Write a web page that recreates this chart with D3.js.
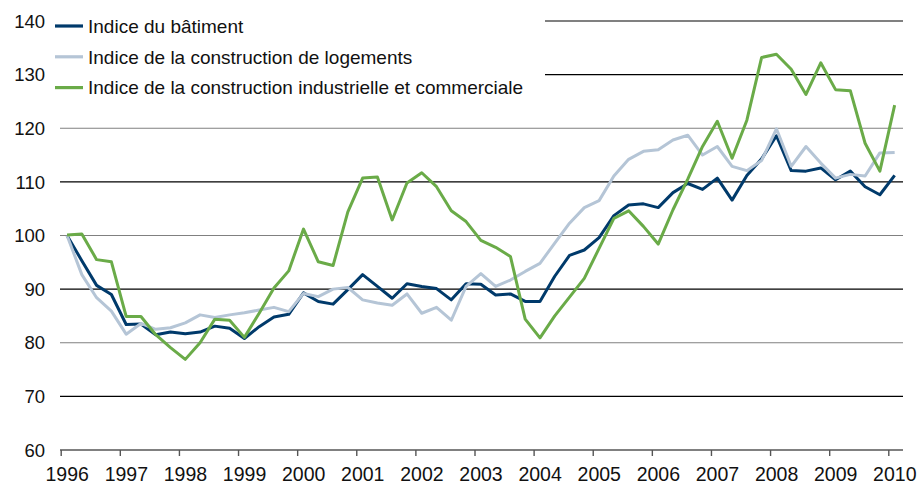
<!DOCTYPE html>
<html>
<head>
<meta charset="utf-8">
<script src="https://cdn.jsdelivr.net/npm/d3@7"></script>
<style>
  body { margin: 0; background: #fff; }
  svg { display: block; font-family: "Liberation Sans", Arial, sans-serif; }
</style>
</head>
<body>
<svg id="drawing_region"></svg>
<script>
// quarterly values, 1996 T1 .. 2010 T1
const batiment = [
    100.0, 95.3, 90.7, 89.0, 83.4, 83.5, 81.5, 82.0, 81.7, 82.0, 83.1, 82.7,
    80.8, 83.0, 84.8, 85.3, 89.3, 87.7, 87.2, 89.9, 92.7, 90.5, 88.3, 91.0,
    90.5, 90.1, 88.0, 91.0, 90.9, 88.9, 89.1, 87.7, 87.7, 92.4, 96.3, 97.3,
    99.6, 103.7, 105.7, 105.9, 105.2, 108.0, 109.7, 108.6, 110.7, 106.6, 111.2, 114.3,
    118.6, 112.1, 112.0, 112.6, 110.4, 112.0, 109.1, 107.6, 111.2
];
const logements = [
    100.0, 92.7, 88.4, 85.9, 81.6, 83.6, 82.5, 82.8, 83.7, 85.2, 84.7, 85.2,
    85.6, 86.1, 86.6, 85.8, 89.2, 88.6, 90.0, 90.3, 88.0, 87.4, 87.0, 89.1,
    85.5, 86.6, 84.2, 90.5, 92.9, 90.5, 91.7, 93.3, 94.8, 98.6, 102.3, 105.2,
    106.5, 111.1, 114.2, 115.7, 116.0, 117.8, 118.7, 115.0, 116.6, 112.9, 112.1, 114.0,
    119.9, 112.9, 116.6, 113.5, 110.7, 111.4, 111.1, 115.4, 115.5
];
const industrielle = [
    100.1, 100.3, 95.5, 95.1, 84.9, 84.9, 81.5, 79.1, 76.9, 80.0, 84.4, 84.2,
    81.0, 85.5, 90.2, 93.4, 101.2, 95.1, 94.4, 104.4, 110.7, 110.9, 102.9, 109.8,
    111.7, 109.1, 104.6, 102.6, 99.1, 97.8, 96.1, 84.4, 80.9, 85.0, 88.5, 92.0,
    97.6, 103.2, 104.6, 101.7, 98.4, 104.8, 110.5, 116.6, 121.3, 114.4, 121.5, 133.2,
    133.8, 131.0, 126.3, 132.2, 127.2, 127.0, 117.2, 112.0, 124.3
];
const seriesNames = [
    "Indice du bâtiment",
    "Indice de la construction de logements",
    "Indice de la construction industrielle et commerciale"
];
const seriesColors = ["#003a6b", "#b5c5d6", "#6aab48"];
const yTicks = [60, 70, 80, 90, 100, 110, 120, 130, 140];
const xTicks = [1996, 1997, 1998, 1999, 2000, 2001, 2002, 2003, 2004, 2005, 2006, 2007, 2008, 2009, 2010];
const startYear = 1996;

class LineChart {

    constructor( config, series ) {
        this.config = {
            parent: config.parent,
            width: config.width || 919,
            height: config.height || 487,
            margin: config.margin || {top:21, right:16, bottom:37, left:60}
        }
        this.series = series;
        this.init();
    }

    init() {
        let self = this;

        self.svg = d3.select( self.config.parent )
            .attr('width', self.config.width)
            .attr('height', self.config.height);

        self.inner_width = self.config.width - self.config.margin.left - self.config.margin.right;
        self.inner_height = self.config.height - self.config.margin.top - self.config.margin.bottom;

        self.chart = self.svg.append('g')
            .attr('transform', `translate(${self.config.margin.left}, ${self.config.margin.top})`);

        // year ticks sit a bit inside the right edge of the grid
        self.xscale = d3.scaleLinear()
            .domain([1996, 2010])
            .range([0.7, 828.3]);

        self.yscale = d3.scaleLinear()
            .domain([60, 140])
            .range([self.inner_height, 0]);

        self.line = d3.line()
            .x( (d, i) => self.xscale( startYear + (i + 0.43) / 4 ) )
            .y( d => self.yscale(d) );
    }

    render() {
        let self = this;

        // horizontal grid, alternating gray / black
        self.chart.selectAll(".grid")
            .data(yTicks.filter(d => d > 60))
            .enter()
            .append("line")
            .attr("class", "grid")
            .attr("x1", 0)
            .attr("x2", self.inner_width)
            .attr("y1", d => self.yscale(d))
            .attr("y2", d => self.yscale(d))
            .attr("stroke", d => (d / 10) % 2 == 0 ? "#808080" : "#000")
            .attr("stroke-width", d => d == 140 ? 1.8 : 1.2);

        // y labels
        self.chart.selectAll(".ylabel")
            .data(yTicks)
            .enter()
            .append("text")
            .attr("class", "ylabel")
            .attr("x", -15)
            .attr("y", d => self.yscale(d))
            .attr("dy", "0.36em")
            .attr("text-anchor", "end")
            .attr("font-size", "18.5px")
            .attr("fill", "#111")
            .text(d => d);

        // x axis
        const xaxis = d3.axisBottom( self.xscale )
            .tickValues(xTicks)
            .tickSize(6)
            .tickSizeOuter(0)
            .tickFormat(d3.format("d"));

        const xaxis_group = self.chart.append('g')
            .attr('transform', `translate(0, ${self.inner_height})`)
            .call(xaxis);

        xaxis_group.select(".domain")
            .attr("d", `M0,0H${self.inner_width}`)
            .attr("stroke", "#808080")
            .attr("stroke-width", 1.8);
        xaxis_group.selectAll(".tick line")
            .attr("stroke", "#555")
            .attr("stroke-width", 1.4);
        xaxis_group.selectAll(".tick text")
            .attr("font-family", "Liberation Sans, Arial, sans-serif")
            .attr("font-size", "19.5px")
            .attr("fill", "#111")
            .attr("dx", 6)
            .attr("y", 17)
            .attr("dy", "0.71em");

        // legend sits on a white box over the top gridlines
        self.chart.append("rect")
            .attr("x", -2)
            .attr("y", -18)
            .attr("width", 487)
            .attr("height", 88)
            .attr("fill", "#fff");

        self.chart.selectAll(".series")
            .data(self.series)
            .enter()
            .append("path")
            .attr("class", "series")
            .attr("fill", "none")
            .attr("stroke", d => d.color)
            .attr("stroke-width", 3)
            .attr("stroke-linejoin", "round")
            .attr("d", d => self.line(d.values));

        const legend = self.chart.selectAll(".legend")
            .data(self.series)
            .enter()
            .append("g")
            .attr("class", "legend")
            .attr("transform", (d, i) => `translate(-5, ${5 + i * 30.8})`);

        legend.append("line")
            .attr("x1", 0)
            .attr("x2", 28)
            .attr("stroke", d => d.color)
            .attr("stroke-width", 3.2);

        legend.append("text")
            .attr("x", 33)
            .attr("dy", "0.36em")
            .attr("font-size", "19px")
            .attr("fill", "#111")
            .text(d => d.name);
    }
}

const series = [
    { name: seriesNames[0], color: seriesColors[0], values: batiment },
    { name: seriesNames[1], color: seriesColors[1], values: logements },
    { name: seriesNames[2], color: seriesColors[2], values: industrielle }
];

const chart = new LineChart({ parent: '#drawing_region', width: 919, height: 487 }, series);
chart.render();
</script>
</body>
</html>
